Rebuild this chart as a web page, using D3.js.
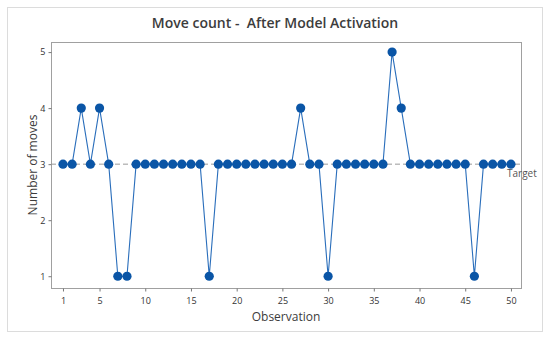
<!DOCTYPE html>
<html>
<head>
<meta charset="utf-8">
<script src="https://cdn.jsdelivr.net/npm/d3@7"></script>
<style>
  body { margin: 0; background: #fff; }
  text { font-family: "Open Sans", "Noto Sans", sans-serif; }
</style>
</head>
<body>
<div id="chart"></div>
<script>
// observation values (move count)
var observations = d3.range(1, 51);
var moves = [3,3,4,3,4,3,1,1,3,3, 3,3,3,3,3,3,1,3,3,3,
             3,3,3,3,3,3,4,3,3,1, 3,3,3,3,3,3,5,4,3,3,
             3,3,3,3,3,1,3,3,3,3];
var xTicks = [1,5,10,15,20,25,30,35,40,45,50];
var yTicks = [1,2,3,4,5];
var target = 3;

var width = 550, height = 339;
var plot = {left: 51, right: 521, top: 42, bottom: 288};

var svg = d3.select("#chart").append("svg")
    .attr("width", width)
    .attr("height", height);

// outer frame
svg.append("rect")
    .attr("x", 7.5).attr("y", 7.5)
    .attr("width", 535).attr("height", 324)
    .attr("fill", "#fff")
    .attr("stroke", "#dcdcdc");

var x = d3.scaleLinear().domain([-0.31, 51.1]).range([plot.left, plot.right]);
var y = d3.scaleLinear().domain([0.79, 5.18]).range([plot.bottom, plot.top]);

// plot frame
svg.append("rect")
    .attr("x", plot.left + 0.5).attr("y", plot.top + 0.5)
    .attr("width", plot.right - plot.left).attr("height", plot.bottom - plot.top)
    .attr("fill", "none")
    .attr("stroke", "#a0a0a0");

var xAxis = svg.append("g")
    .attr("transform", "translate(0," + (plot.bottom + 0.5) + ")")
    .call(d3.axisBottom(x).tickValues(xTicks).tickFormat(d3.format("d")).tickSize(3).tickSizeOuter(0));
var yAxis = svg.append("g")
    .attr("transform", "translate(" + (plot.left + 0.5) + ",0)")
    .call(d3.axisLeft(y).tickValues(yTicks).tickFormat(d3.format("d")).tickSize(3).tickSizeOuter(0));

[xAxis, yAxis].forEach(function(a) {
  a.select(".domain").remove();
  a.selectAll("line").attr("stroke", "#777");
  a.selectAll("text")
    .attr("fill", "#333")
    .style("font-size", "9px")
    .style("font-family", "'Open Sans', 'Noto Sans', sans-serif");
});
xAxis.selectAll("text").attr("dy", "1.1em");

// target line
svg.append("line")
    .attr("x1", plot.left).attr("x2", plot.right)
    .attr("y1", y(target)).attr("y2", y(target))
    .attr("stroke", "#999")
    .attr("stroke-width", 1)
    .attr("stroke-dasharray", "5,3");
svg.append("text")
    .attr("x", 507).attr("y", y(target) + 13)
    .attr("fill", "#555")
    .style("font-size", "10px")
    .text("Target");

// series line
var line = d3.line()
    .x(function(d, i) { return x(observations[i]); })
    .y(function(d) { return y(d); });

svg.append("path")
    .datum(moves)
    .attr("d", line)
    .attr("fill", "none")
    .attr("stroke", "#2a6ebb")
    .attr("stroke-width", 1.1);

svg.selectAll("circle.pt")
    .data(moves)
    .enter().append("circle")
    .attr("class", "pt")
    .attr("cx", function(d, i) { return x(observations[i]); })
    .attr("cy", function(d) { return y(d); })
    .attr("r", 4.6)
    .attr("fill", "#0a55a6");

// titles
svg.append("text")
    .attr("x", 275).attr("y", 28)
    .attr("text-anchor", "middle")
    .attr("fill", "#3c3c3c")
    .style("font-size", "14px")
    .style("font-weight", "600")
    .style("white-space", "pre")
    .text("Move count -  After Model Activation");

svg.append("text")
    .attr("x", (plot.left + plot.right) / 2).attr("y", 321)
    .attr("text-anchor", "middle")
    .attr("fill", "#3c3c3c")
    .style("font-size", "12px")
    .text("Observation");

svg.append("text")
    .attr("transform", "translate(37," + ((plot.top + plot.bottom) / 2) + ") rotate(-90)")
    .attr("text-anchor", "middle")
    .attr("fill", "#3c3c3c")
    .style("font-size", "12px")
    .text("Number of moves");
</script>
</body>
</html>
